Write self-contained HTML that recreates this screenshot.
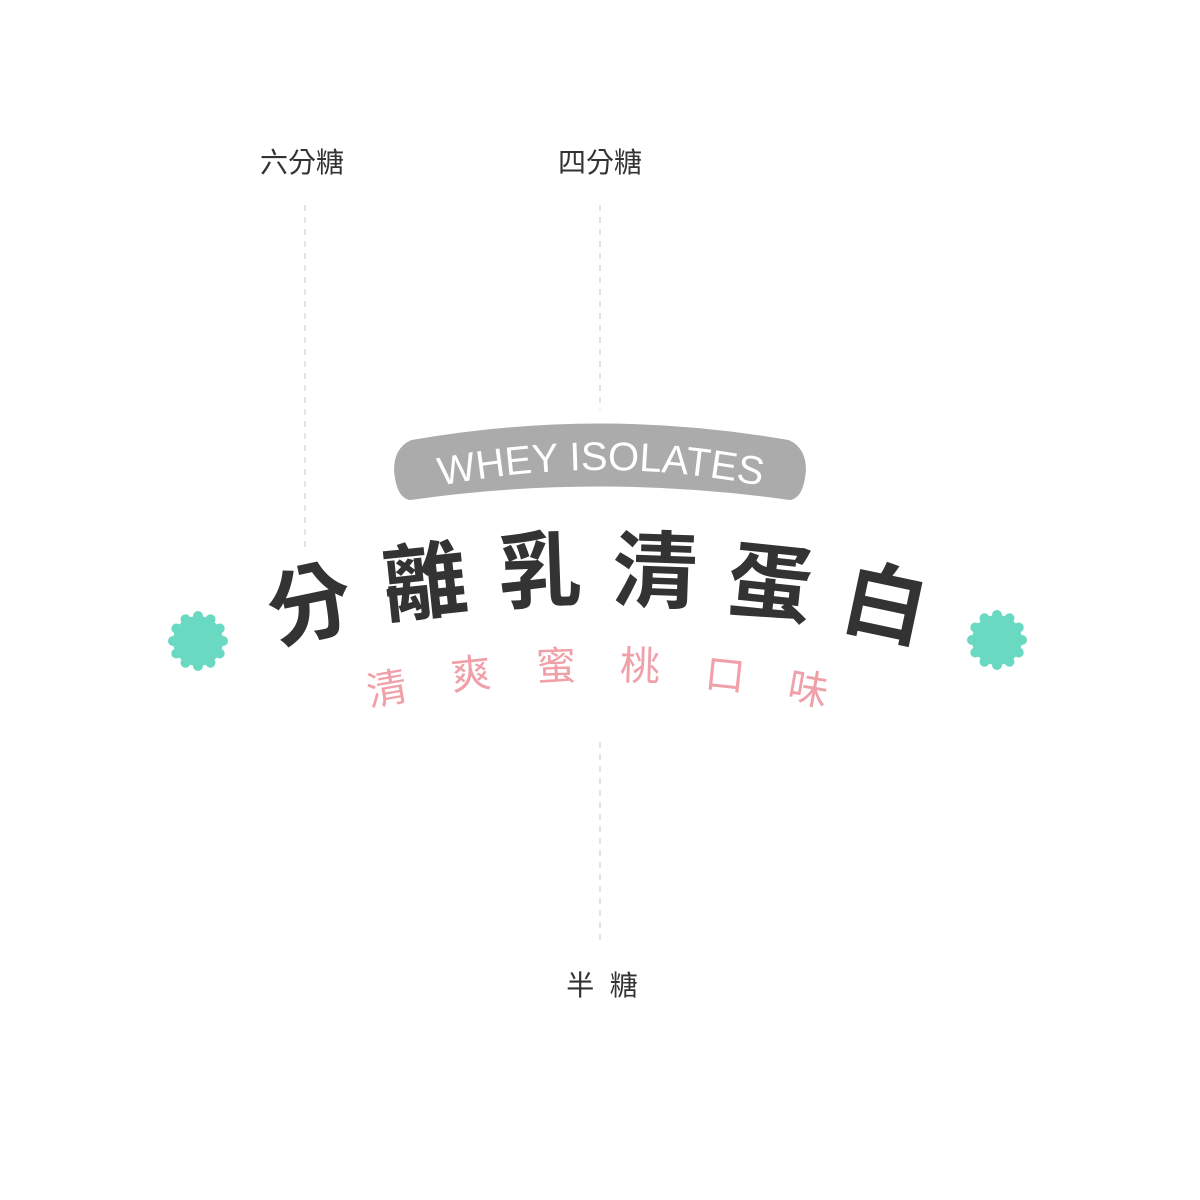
<!DOCTYPE html>
<html><head><meta charset="utf-8"><style>
html,body{margin:0;padding:0;background:#fff}
body{width:1200px;height:1200px;position:relative;overflow:hidden;font-family:"Liberation Sans","Noto Sans CJK TC",sans-serif}
.c{position:absolute;transform:translate(-50%,-50%);white-space:nowrap;line-height:1}
.t{font-size:84px;font-weight:bold;color:#333}
.p{font-size:40px;color:#f0a0a8}
.l{font-size:28px;color:#333}
</style></head><body>
<svg width="1200" height="1200" style="position:absolute;left:0;top:0">
<g stroke="#dcdcdc" stroke-width="1.5" stroke-dasharray="6,6">
<line x1="305" y1="205" x2="305" y2="548"/>
<line x1="600" y1="205" x2="600" y2="410"/>
<line x1="600" y1="742" x2="600" y2="946"/>
</g>
<path d="M412 443 Q600 410 788 443 Q803 450 803 470 Q801 495 790 497 Q600 470 410 497 Q399 495 397 470 Q397 450 412 443 Z" fill="#aaabaa" stroke="#aaabaa" stroke-width="6" stroke-linejoin="round"/>
<path id="arc" d="M430 488 Q600 452 772 488" fill="none"/>
<text font-family="Liberation Sans,sans-serif" font-size="40" fill="#fff"><textPath href="#arc" startOffset="50%" text-anchor="middle">WHEY ISOLATES</textPath></text>
<g fill="#6ad9c2">
<circle cx="198" cy="641" r="25"/>
<circle cx="223" cy="641" r="5"/><circle cx="219.7" cy="653.5" r="5"/><circle cx="210.5" cy="662.7" r="5"/><circle cx="198" cy="666" r="5"/><circle cx="185.5" cy="662.7" r="5"/><circle cx="176.3" cy="653.5" r="5"/><circle cx="173" cy="641" r="5"/><circle cx="176.3" cy="628.5" r="5"/><circle cx="185.5" cy="619.3" r="5"/><circle cx="198" cy="616" r="5"/><circle cx="210.5" cy="619.3" r="5"/><circle cx="219.7" cy="628.5" r="5"/>
<circle cx="997" cy="640" r="25"/>
<circle cx="1022" cy="640" r="5"/><circle cx="1018.7" cy="652.5" r="5"/><circle cx="1009.5" cy="661.7" r="5"/><circle cx="997" cy="665" r="5"/><circle cx="984.5" cy="661.7" r="5"/><circle cx="975.3" cy="652.5" r="5"/><circle cx="972" cy="640" r="5"/><circle cx="975.3" cy="627.5" r="5"/><circle cx="984.5" cy="618.3" r="5"/><circle cx="997" cy="615" r="5"/><circle cx="1009.5" cy="618.3" r="5"/><circle cx="1018.7" cy="627.5" r="5"/>
</g>
</svg>
<div class="c l" style="left:302px;top:163px">六分糖</div>
<div class="c l" style="left:600px;top:163px">四分糖</div>
<div class="c l" style="left:602px;top:986px">半&nbsp;&nbsp;糖</div>

<div class="c t" style="left:310px;top:605px;transform:translate(-50%,-50%) rotate(-12deg)">分</div>
<div class="c t" style="left:425px;top:583px;transform:translate(-50%,-50%) rotate(-6deg)">離</div>
<div class="c t" style="left:540px;top:572px;transform:translate(-50%,-50%) rotate(-2deg)">乳</div>
<div class="c t" style="left:655px;top:572px;transform:translate(-50%,-50%) rotate(2deg)">清</div>
<div class="c t" style="left:770px;top:584px;transform:translate(-50%,-50%) rotate(6deg)">蛋</div>
<div class="c t" style="left:885px;top:605px;transform:translate(-50%,-50%) rotate(12deg)">白</div>

<div class="c p" style="left:387px;top:690px;transform:translate(-50%,-50%) rotate(-10deg)">清</div>
<div class="c p" style="left:471px;top:675px;transform:translate(-50%,-50%) rotate(-6deg)">爽</div>
<div class="c p" style="left:556px;top:667px;transform:translate(-50%,-50%) rotate(-2deg)">蜜</div>
<div class="c p" style="left:640px;top:667px;transform:translate(-50%,-50%) rotate(2deg)">桃</div>
<div class="c p" style="left:725px;top:676px;transform:translate(-50%,-50%) rotate(6deg)">口</div>
<div class="c p" style="left:808px;top:690px;transform:translate(-50%,-50%) rotate(10deg)">味</div>
</body></html>
